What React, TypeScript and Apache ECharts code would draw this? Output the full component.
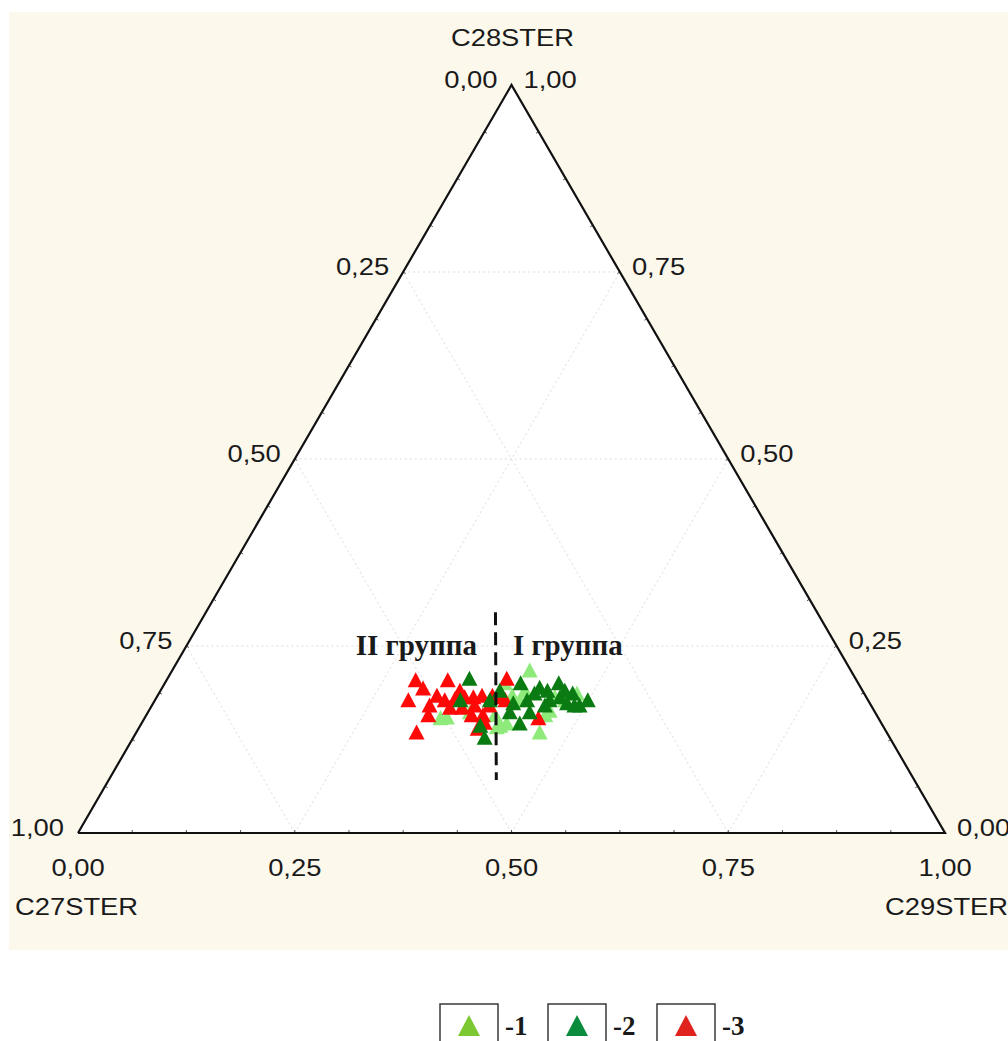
import { useEffect, useRef } from "react";
import * as echarts from "echarts";

// Sterane composition of the samples: [C27STER, C28STER, C29STER] fractions
const componentNames = ["C27STER", "C28STER", "C29STER"];
const tickValues = [0, 0.25, 0.5, 0.75, 1];
const gridLevels = [0.25, 0.5, 0.75];
const groupNames = ["-1", "-2", "-3"];
const pointColors = ["#8eea7a", "#0a7b12", "#ff0808"];
const legendColors = ["#7cc832", "#0a8c3c", "#e0231e"];
const zoneLabels = ["II группа", "I группа"];

const group1 = [
  [0.370, 0.218, 0.412],
  [0.400, 0.135, 0.465],
  [0.432, 0.147, 0.421],
  [0.374, 0.164, 0.462],
  [0.331, 0.187, 0.482],
  [0.389, 0.191, 0.420],
  [0.497, 0.155, 0.348],
  [0.505, 0.154, 0.341],
  [0.440, 0.158, 0.402],
  [0.407, 0.184, 0.409],
  [0.359, 0.182, 0.459],
  [0.407, 0.201, 0.392],
  [0.467, 0.162, 0.371],
  [0.401, 0.178, 0.421],
  [0.382, 0.158, 0.460],
  [0.349, 0.178, 0.473],
  [0.441, 0.144, 0.415],
  [0.446, 0.142, 0.412],
];

const group2 = [
  [0.445, 0.207, 0.348],
  [0.467, 0.128, 0.405],
  [0.464, 0.144, 0.392],
  [0.389, 0.201, 0.410],
  [0.370, 0.195, 0.435],
  [0.345, 0.201, 0.454],
  [0.336, 0.187, 0.477],
  [0.323, 0.178, 0.499],
  [0.393, 0.178, 0.429],
  [0.411, 0.174, 0.415],
  [0.417, 0.147, 0.436],
  [0.367, 0.178, 0.455],
  [0.349, 0.174, 0.477],
  [0.336, 0.171, 0.493],
  [0.380, 0.187, 0.433],
  [0.376, 0.171, 0.453],
  [0.353, 0.182, 0.465],
  [0.418, 0.191, 0.391],
  [0.421, 0.162, 0.417],
  [0.398, 0.162, 0.440],
  [0.470, 0.178, 0.352],
  [0.436, 0.178, 0.386],
  [0.343, 0.191, 0.466],
  [0.363, 0.191, 0.446],
  [0.342, 0.171, 0.487],
];

const group3 = [
  [0.508, 0.205, 0.287],
  [0.505, 0.194, 0.301],
  [0.471, 0.205, 0.324],
  [0.530, 0.178, 0.292],
  [0.517, 0.158, 0.325],
  [0.542, 0.135, 0.323],
  [0.494, 0.184, 0.322],
  [0.488, 0.178, 0.334],
  [0.475, 0.180, 0.345],
  [0.463, 0.182, 0.355],
  [0.453, 0.182, 0.365],
  [0.442, 0.184, 0.374],
  [0.430, 0.184, 0.386],
  [0.487, 0.168, 0.345],
  [0.473, 0.168, 0.359],
  [0.467, 0.158, 0.375],
  [0.454, 0.158, 0.388],
  [0.457, 0.148, 0.395],
  [0.402, 0.207, 0.391],
  [0.419, 0.182, 0.399],
  [0.392, 0.154, 0.454],
  [0.509, 0.171, 0.320],
  [0.457, 0.171, 0.372],
  [0.464, 0.191, 0.345],
  [0.440, 0.171, 0.389],
  [0.469, 0.140, 0.391],
  [0.418, 0.178, 0.404],
];

const groups = [group1, group2, group3];

// Boundary between the two genetic groups (C27 − C29 = const)
const dividerLine = [
  [0.371, 0.295, 0.334],
  [0.482, 0.071, 0.447],
];

// Ternary triple -> plane coordinates: x along the base, y = C28 share (height)
const toXY = (t: number[]) => {
  const s = t[0] + t[1] + t[2];
  return [(t[2] + t[1] / 2) / s, t[1] / s];
};

const fmt = (v: number) => v.toFixed(2).replace(".", ",");

const SANS = '"Liberation Sans", Arial, sans-serif';
const LABEL_FONT = `24px ${SANS}`;
const TITLE_FONT = `24px ${SANS}`;
const TEXT_STRETCH = 1.14;
const ZONE_FONT = 'bold 29px "Liberation Serif", "Times New Roman", serif';

const sansText = (x: number, y: number, text: string, font: string, align: string) => ({
  type: "text",
  x,
  y,
  scaleX: TEXT_STRETCH,
  style: { text, font, fill: "#1a1a1a", align, verticalAlign: "middle" },
});

function renderFrame(_params: any, api: any) {
  const P = (t: number[]) => api.coord(toXY(t));
  const A = P([1, 0, 0]); // C27 corner
  const B = P([0, 1, 0]); // C28 corner
  const C = P([0, 0, 1]); // C29 corner
  const G = [(A[0] + B[0] + C[0]) / 3, (A[1] + B[1] + C[1]) / 3];
  const children: any[] = [];

  children.push({ type: "polygon", shape: { points: [A, B, C] }, style: { fill: "#ffffff" } });

  const gridStyle = { stroke: "#dcdcdc", lineWidth: 1, lineDash: [2, 3], fill: null };
  gridLevels.forEach((k) => {
    const segs = [
      [P([1 - k, k, 0]), P([0, k, 1 - k])],
      [P([1 - k, 0, k]), P([0, 1 - k, k])],
      [P([k, 0, 1 - k]), P([k, 1 - k, 0])],
    ];
    segs.forEach(([p, q]) =>
      children.push({
        type: "line",
        shape: { x1: p[0], y1: p[1], x2: q[0], y2: q[1] },
        style: gridStyle,
      })
    );
  });

  // small inward ticks every 1/16 along each side
  const edges = [
    (t: number) => P([1 - t, 0, t]),
    (t: number) => P([1 - t, t, 0]),
    (t: number) => P([0, t, 1 - t]),
  ];
  const ends = [
    [A, C],
    [A, B],
    [C, B],
  ];
  edges.forEach((f, ei) => {
    const [e0, e1] = ends[ei];
    const dx = e1[0] - e0[0];
    const dy = e1[1] - e0[1];
    const len = Math.hypot(dx, dy);
    let nx = -dy / len;
    let ny = dx / len;
    if (nx * (G[0] - e0[0]) + ny * (G[1] - e0[1]) < 0) {
      nx = -nx;
      ny = -ny;
    }
    for (let i = 1; i < 16; i++) {
      const p = f(i / 16);
      children.push({
        type: "line",
        shape: { x1: p[0], y1: p[1], x2: p[0] + nx * 3, y2: p[1] + ny * 3 },
        style: { stroke: "#555", lineWidth: 1 },
      });
    }
  });

  children.push({
    type: "polyline",
    shape: { points: [A, B, C, A] },
    style: { stroke: "#111", lineWidth: 2.2, fill: null },
  });

  tickValues.forEach((v) => {
    const l = P([v, 1 - v, 0]);
    children.push(sansText(l[0] - 14, l[1] - 5, fmt(v), LABEL_FONT, "right"));
    const r = P([0, v, 1 - v]);
    children.push(sansText(r[0] + 12, r[1] - 5, fmt(v), LABEL_FONT, "left"));
    const b = P([1 - v, 0, v]);
    children.push(sansText(b[0], b[1] + 35, fmt(v), LABEL_FONT, "center"));
  });

  children.push(sansText(A[0] - 63, A[1] + 74, componentNames[0], TITLE_FONT, "left"));
  children.push(sansText(B[0] + 1, B[1] - 47, componentNames[1], TITLE_FONT, "center"));
  children.push(sansText(C[0] - 60, C[1] + 74, componentNames[2], TITLE_FONT, "left"));

  // group captions on both sides of the boundary, at the C28 = 0.25 level
  const d0 = toXY(dividerLine[0]);
  const d1 = toXY(dividerLine[1]);
  const anchor = api.coord([(d0[0] + d1[0]) / 2, 0.25]);
  children.push({
    type: "text",
    x: anchor[0] - 19,
    y: anchor[1] - 1,
    style: { text: zoneLabels[0], font: ZONE_FONT, fill: "#1a1a1a", align: "right", verticalAlign: "middle" },
  });
  children.push({
    type: "text",
    x: anchor[0] + 17,
    y: anchor[1] - 1,
    style: { text: zoneLabels[1], font: ZONE_FONT, fill: "#1a1a1a", align: "left", verticalAlign: "middle" },
  });

  return { type: "group", children };
}

const legendLefts = [458, 566, 675];

export default function App() {
  const ref = useRef<HTMLDivElement>(null);

  useEffect(() => {
    if (!ref.current) return;
    const chart = echarts.init(ref.current, undefined, { renderer: "svg" });

    const scatterSeries = groups.map((g, i) => ({
      type: "scatter",
      name: groupNames[i],
      data: g.map(toXY),
      symbol: "triangle",
      symbolSize: [16, 15],
      itemStyle: { color: pointColors[i], opacity: 1 },
      z: [3, 5, 4][i],
    }));

    chart.setOption({
      animation: false,
      backgroundColor: "#ffffff",
      grid: { left: 78, top: 85, width: 867, height: 748 },
      xAxis: { type: "value", min: 0, max: 1, show: false },
      yAxis: { type: "value", min: 0, max: 1, show: false },
      legend: groupNames.map((n, i) => ({
        data: [{ name: n, icon: "triangle", itemStyle: { color: legendColors[i] } }],
        left: legendLefts[i],
        top: 1012,
        itemWidth: 22,
        itemHeight: 21,
        padding: 0,
        selectedMode: false,
        textStyle: {
          fontFamily: '"Liberation Serif", "Times New Roman", serif',
          fontWeight: "bold",
          fontSize: 27,
          color: "#1a1a1a",
          padding: [0, 0, 0, 20],
        },
      })),
      graphic: {
        elements: [
          {
            type: "rect",
            z: -10,
            shape: { x: 9, y: 12, width: 999, height: 938 },
            style: { fill: "#fcf8ec" },
            silent: true,
          },
          ...legendLefts.map((l) => ({
            type: "rect",
            z: 10,
            shape: { x: l - 18, y: 1004, width: 58, height: 50 },
            style: { fill: null, stroke: "#3a3a3a", lineWidth: 1.5 },
            silent: true,
          })),
        ],
      },
      series: [
        {
          type: "custom",
          coordinateSystem: "cartesian2d",
          data: [[0, 0]],
          silent: true,
          z: 1,
          renderItem: renderFrame,
        },
        ...scatterSeries,
        {
          type: "line",
          data: dividerLine.map(toXY),
          symbol: "none",
          silent: true,
          z: 8,
          lineStyle: { color: "#111", width: 3, type: [13, 7] },
        },
      ],
    });

    return () => chart.dispose();
  }, []);

  return (
    <div
      ref={ref}
      style={{ position: "absolute", left: 0, top: 0, width: 1008, height: 1041 }}
    />
  );
}
